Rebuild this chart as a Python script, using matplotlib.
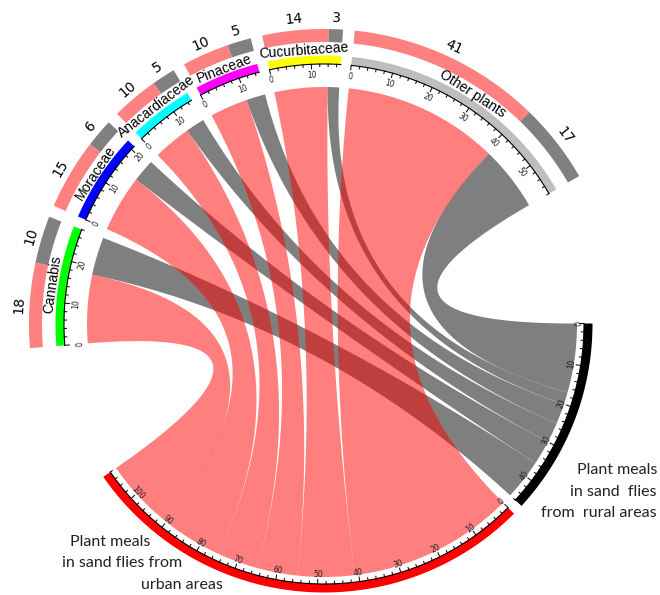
import numpy as np
import matplotlib.pyplot as plt

# plant families and number of plant meals per area
plants = ['Cannabis', 'Moraceae', 'Anacardiaceae', 'Pinaceae', 'Cucurbitaceae', 'Other plants']
plant_colors = ['#00FF00', '#0000FF', '#00FFFF', '#FF00FF', '#FFFF00', '#BEBEBE']
urban_meals = [18, 15, 10, 10, 14, 41]
rural_meals = [10, 6, 5, 5, 3, 17]

# circle layout (pixel units, figure is 660x595)
CX, CY = 324, 324
UNIT = 0.9292          # degrees per meal
GAP_S, GAP_B = 2.3, 30
START = 184.7

R_AXIS = 260
R_BAND = 268.5
R_LINK_PLANT = 237
R_LINK_AREA = 253
R_RING = (282, 295)

fig = plt.figure(figsize=(6.6, 5.95), dpi=100)
ax = fig.add_axes([0, 0, 1, 1])
ax.set_xlim(0, 660)
ax.set_ylim(595, 0)
ax.axis('off')


def xy(ang, r):
    a = np.radians(ang)
    return CX + r * np.cos(a), CY - r * np.sin(a)


def rot(ang):
    a = (ang + 180) % 360 - 180
    return a - 90 if a > 0 else a + 90


def band(a1, a2, r0, r1, **kw):
    t = np.linspace(a1, a2, 60)
    x0, y0 = xy(t, r0)
    x1, y1 = xy(t[::-1], r1)
    ax.fill(np.r_[x0, x1], np.r_[y0, y1], lw=0, **kw)


def bezier(p0, p2, n=80):
    t = np.linspace(0, 1, n)[:, None]
    p0, p2, c = np.array(p0), np.array(p2), np.array([CX, CY])
    return (1 - t) ** 2 * p0 + 2 * t * (1 - t) * c + t ** 2 * p2


def ribbon(s1, s2, t1, t2, color, alpha):
    sa = np.linspace(s1, s2, 40)
    ta = np.linspace(t1, t2, 40)
    pts = [np.column_stack(xy(sa, R_LINK_PLANT)),
           bezier(xy(s2, R_LINK_PLANT), xy(t1, R_LINK_AREA)),
           np.column_stack(xy(ta, R_LINK_AREA)),
           bezier(xy(t2, R_LINK_AREA), xy(s1, R_LINK_PLANT))]
    p = np.vstack(pts)
    ax.fill(p[:, 0], p[:, 1], color=color, alpha=alpha, lw=0)


# sector start angles
names = plants + ['Rural', 'Urban']
totals = [u + r for u, r in zip(urban_meals, rural_meals)] + [sum(rural_meals), sum(urban_meals)]
gaps = [GAP_S] * 5 + [GAP_B, GAP_S, GAP_B]
starts = []
a = START
for tot, g in zip(totals, gaps):
    starts.append(a)
    a = a - tot * UNIT - g
pos = lambda i, p: starts[i] - p * UNIT

# colour bands and axes
band_colors = plant_colors + ['#000000', '#FF0000']
for i, (tot, col) in enumerate(zip(totals, band_colors)):
    a1, a2 = pos(i, 0), pos(i, tot)
    band(a1, a2, R_AXIS, R_BAND, color=col)
    t = np.linspace(a1, a2, 80)
    ax.plot(*xy(t, R_AXIS), color='black', lw=0.8)
    for k in range(0, tot + 1, 2):
        L = 4.5 if k % 10 == 0 else 2.5
        x0, y0 = xy(pos(i, k), R_AXIS)
        x1, y1 = xy(pos(i, k), R_AXIS - L)
        ax.plot([x0, x1], [y0, y1], color='black', lw=0.7)
        if k % 10 == 0:
            rl = 249 if i < 6 else 251
            ax.text(*xy(pos(i, k), rl), str(k), fontsize=5.5, ha='center', va='center',
                    rotation=rot(pos(i, k)), color='#222222')

# links: rural (grey) first, urban (red) on top
u_off, r_off = 0, 0
links = []
for i in reversed(range(6)):
    links.append((i, urban_meals[i], u_off, rural_meals[i], r_off))
    u_off += urban_meals[i]
    r_off += rural_meals[i]
for i, un, uo, rn, ro in links:
    ribbon(pos(i, un), pos(i, un + rn), pos(6, ro), pos(6, ro + rn), '#7F7F7F', 1.0)
for i, un, uo, rn, ro in links:
    ribbon(pos(i, 0), pos(i, un), pos(7, uo), pos(7, uo + un), '#FF0000', 0.5)

# outer ring and sector names
for i in range(6):
    un, rn = urban_meals[i], rural_meals[i]
    band(pos(i, 0), pos(i, un), *R_RING, color='#FF8080')
    band(pos(i, un), pos(i, un + rn), *R_RING, color='#808080')
    for lo, n in ((0, un), (un, rn)):
        am = pos(i, lo + n / 2)
        ax.text(*xy(am, 306), str(n), fontsize=10, ha='center', va='center', rotation=rot(am))
    am = pos(i, (un + rn) / 2)
    ax.text(*xy(am, 274), plants[i], fontsize=10, ha='center', va='center',
            rotation=rot(am), family='Liberation Sans')

# area annotations
af = dict(fontsize=11.5, family='Lato', color='#222222', va='center')
ax.text(110, 542, 'Plant meals', ha='center', **af)
ax.text(122, 563, 'in sand flies from', ha='center', **af)
ax.text(182, 585, 'urban areas', ha='center', **af)
ax.text(657, 470, 'Plant meals', ha='right', **af)
ax.text(657, 492, 'in sand  flies', ha='right', **af)
ax.text(657, 513, 'from  rural areas', ha='right', **af)

fig.savefig('out.png', dpi=100)
